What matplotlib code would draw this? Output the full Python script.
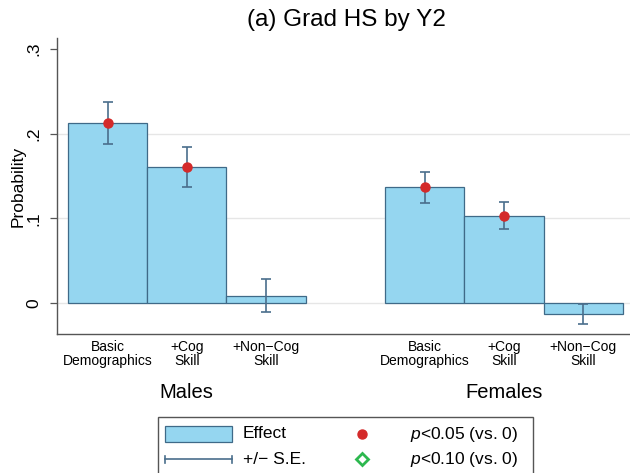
import matplotlib
matplotlib.use("Agg")
import matplotlib.pyplot as plt
from matplotlib.patches import Rectangle
from matplotlib.lines import Line2D
from matplotlib.transforms import blended_transform_factory

plt.rcParams["font.family"] = ["Liberation Sans", "DejaVu Sans"]
plt.rcParams["mathtext.fontset"] = "custom"
plt.rcParams["mathtext.it"] = "Liberation Sans:italic"
plt.rcParams["mathtext.rm"] = "Liberation Sans"

# estimates by group and specification
groups = ["Males", "Females"]
specs = ["Basic\nDemographics", "+Cog\nSkill", "+Non\u2212Cog\nSkill"]
male_effect = [0.2125, 0.1606, 0.0087]
male_se = [0.0247, 0.0238, 0.0195]
male_p05 = [True, True, False]
female_effect = [0.1366, 0.1030, -0.0128]
female_se = [0.0184, 0.0160, 0.0116]
female_p05 = [True, True, False]
yticks = [0, 0.1, 0.2, 0.3]
ytick_labels = ["0", ".1", ".2", ".3"]
grid_at = [0, 0.1, 0.2]

BAR = "#95d6f0"
EDGE = "#3f6a88"
ERR = "#4a6e8c"
RED = "#d42a2a"
GREEN = "#2db84f"
AXC = "#555555"

W, H = 630, 473
fig = plt.figure(figsize=(W / 100, H / 100), dpi=100)


def fx(px):
    return px / W


def fy(py):
    return 1 - py / H


ax = fig.add_axes([fx(57), fy(334), fx(630 - 57), (334 - 38) / H])

for g in grid_at:
    ax.axhline(g, color="#e6e6e6", lw=1.0, zorder=0)

offsets = [0, 4]
series = [(male_effect, male_se, male_p05), (female_effect, female_se, female_p05)]
xt, xl = [], []
for off, (eff, se, sig) in zip(offsets, series):
    xs = [off + i for i in range(len(eff))]
    ax.bar(xs, eff, width=1.0, color=BAR, edgecolor=EDGE, linewidth=0.9, zorder=2)
    ax.errorbar(xs, eff, yerr=se, fmt="none", ecolor=ERR, elinewidth=1.2,
                capsize=3.3, capthick=1.2, zorder=3)
    sx = [x for x, s in zip(xs, sig) if s]
    sy = [v for v, s in zip(eff, sig) if s]
    ax.plot(sx, sy, "o", color=RED, ms=6.5, zorder=4, mec=RED)
    xt += xs
    xl += specs

ax.set_xlim(-0.637, 6.59)
ax.set_ylim(-0.0366, 0.313)
ax.set_xticks(xt)
ax.set_xticklabels(xl, fontsize=10, linespacing=1.0)
ax.tick_params(axis="x", length=0, pad=4)
ax.set_yticks(yticks)
ax.set_yticklabels(ytick_labels, fontsize=12.5, rotation=90, va="center")
ax.tick_params(axis="y", length=5, width=0.9, color=AXC, pad=6)
for s in ["top", "right"]:
    ax.spines[s].set_visible(False)
for s in ["left", "bottom"]:
    ax.spines[s].set_color(AXC)
    ax.spines[s].set_linewidth(1.0)
ax.set_ylabel("Probability", fontsize=12.5, labelpad=1)

group_tf = blended_transform_factory(ax.transData, fig.transFigure)
for off, name in zip(offsets, groups):
    ax.text(off + 1, fy(392), name, fontsize=14.5, ha="center", va="center",
            transform=group_tf)

fig.text(fx(346), fy(20), "(a) Grad HS by Y2", fontsize=17.5, ha="center", va="center")

# legend drawn in figure pixels
fig.patches.append(Rectangle((fx(158), fy(480)), fx(533 - 158), (480 - 417) / H,
                             transform=fig.transFigure, fill=False,
                             edgecolor=AXC, lw=1.0))
fig.patches.append(Rectangle((fx(165), fy(442)), fx(232 - 165), 16 / H,
                             transform=fig.transFigure, facecolor=BAR,
                             edgecolor=EDGE, lw=0.9))
fig.lines.append(Line2D([fx(165), fx(232)], [fy(459), fy(459)],
                        transform=fig.transFigure, color=ERR, lw=1.2))
for px in (165, 232):
    fig.lines.append(Line2D([fx(px), fx(px)], [fy(455.5), fy(462.5)],
                            transform=fig.transFigure, color=ERR, lw=1.2))
fig.lines.append(Line2D([fx(362)], [fy(434)], transform=fig.transFigure,
                        marker="o", color=RED, ms=6.5, ls="none"))
fig.lines.append(Line2D([fx(362)], [fy(459)], transform=fig.transFigure,
                        marker="D", mfc="none", mec=GREEN, mew=2.0, ms=6.5, ls="none"))
fig.text(fx(243), fy(434), "Effect", fontsize=12.5, va="center")
fig.text(fx(243), fy(459), "+/\u2212 S.E.", fontsize=12.5, va="center")
fig.text(fx(518), fy(434), r"$\mathit{p}$<0.05 (vs. 0)", fontsize=12.5, va="center", ha="right")
fig.text(fx(518), fy(459), r"$\mathit{p}$<0.10 (vs. 0)", fontsize=12.5, va="center", ha="right")

fig.savefig("out.png", dpi=100)
